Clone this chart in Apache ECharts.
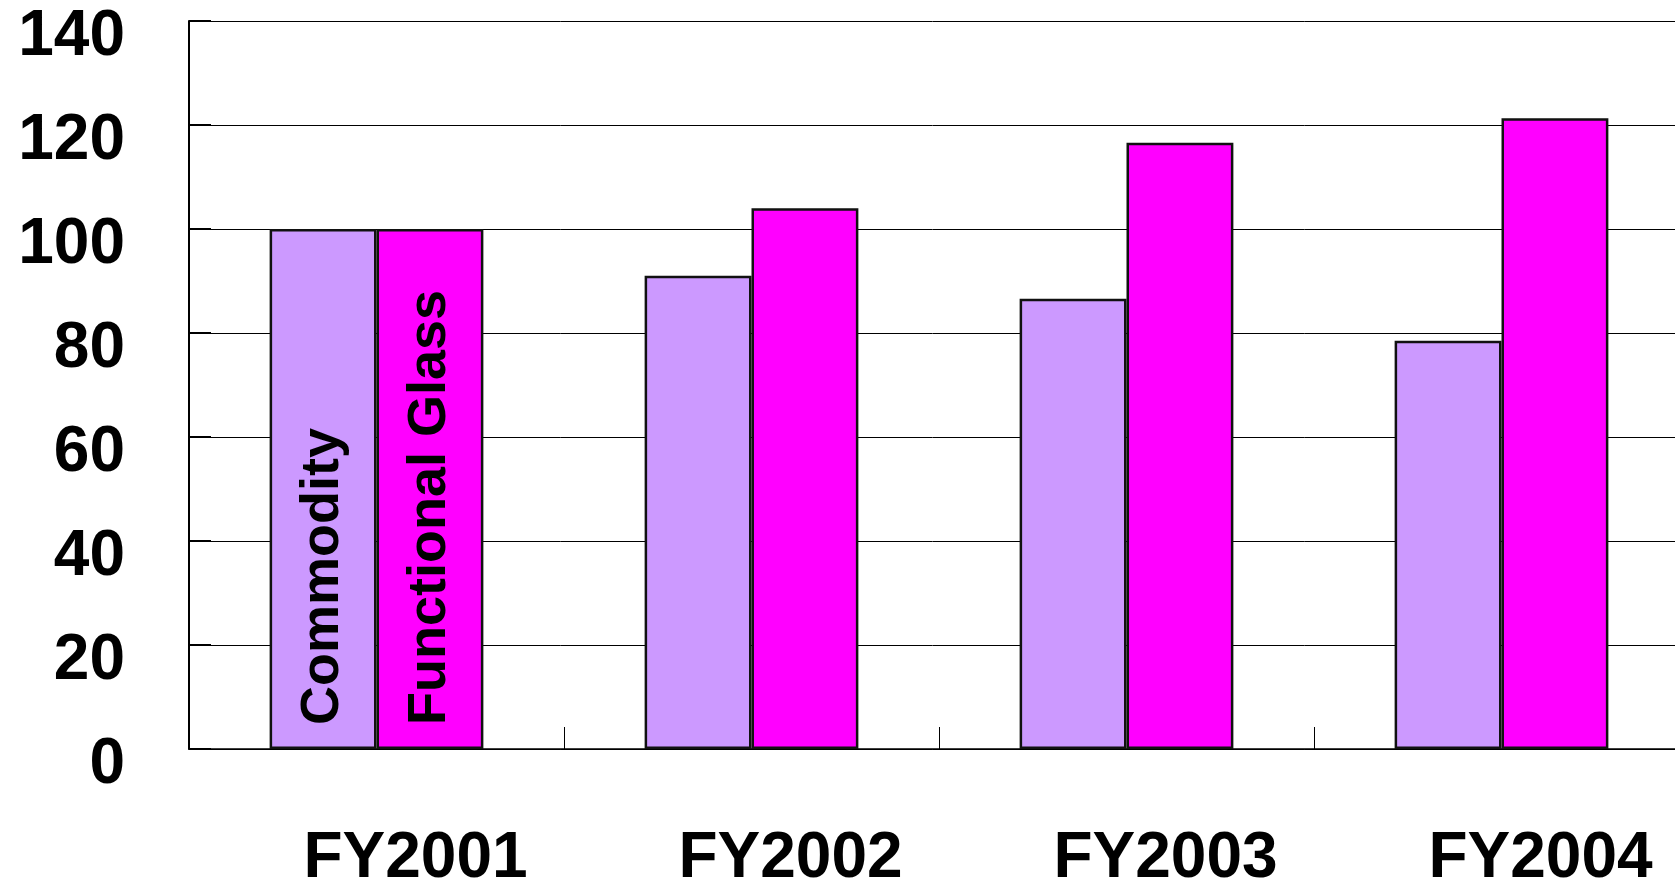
<!DOCTYPE html>
<html>
<head>
<meta charset="utf-8">
<style>
  html, body { margin: 0; padding: 0; background: #fff; }
  #chart { width: 1675px; height: 885px; }
</style>
<script src="https://cdn.jsdelivr.net/npm/echarts@6/dist/echarts.min.js"></script>
</head>
<body>
<div id="chart"></div>
<script>
// data
var years = ['FY2001', 'FY2002', 'FY2003', 'FY2004'];
var commodity = [100, 91, 86.6, 78.5];
var functionalGlass = [100, 104, 116.6, 121.3];
var seriesNames = ['Commodity', 'Functional Glass'];

var font = '"Liberation Sans", Arial, sans-serif';

// only the first bar of each series carries the name as an inside label
function withLabel(values, name) {
    return values.map(function (v, i) {
        if (i !== 0) return v;
        return {
            value: v,
            label: {
                show: true,
                formatter: name
            }
        };
    });
}

var barLabel = {
    show: false,
    position: 'insideBottom',
    rotate: 90,
    align: 'left',
    verticalAlign: 'middle',
    distance: 24,
    color: '#000',
    fontFamily: font,
    fontWeight: 'bold',
    fontSize: 54
};

var chart = echarts.init(document.getElementById('chart'));
chart.setOption({
    animation: false,
    backgroundColor: '#fff',
    grid: {
        left: 189,
        top: 21,
        right: -14,
        bottom: 136,
        outerBoundsMode: 'none',
        containLabel: false
    },
    xAxis: {
        type: 'category',
        data: years,
        axisLine: { lineStyle: { color: '#000', width: 1.5 } },
        axisTick: {
            show: true,
            inside: true,
            length: 22,
            lineStyle: { color: '#000', width: 1 }
        },
        axisLabel: {
            color: '#000',
            fontFamily: font,
            fontWeight: 'bold',
            fontSize: 64,
            margin: 78,
            padding: [0, 0, 0, 78]
        }
    },
    yAxis: {
        type: 'value',
        min: 0,
        max: 140,
        interval: 20,
        axisLine: { show: true, lineStyle: { color: '#000', width: 2 } },
        axisTick: {
            show: true,
            inside: true,
            length: 22,
            lineStyle: { color: '#000', width: 2 }
        },
        splitLine: { lineStyle: { color: '#000', width: 1 } },
        axisLabel: {
            color: '#000',
            fontFamily: font,
            fontWeight: 'bold',
            fontSize: 64,
            margin: 64,
            verticalAlign: 'top',
            lineHeight: 32
        }
    },
    series: [
        {
            name: seriesNames[0],
            type: 'bar',
            data: withLabel(commodity, seriesNames[0]),
            barGap: '0%',
            barCategoryGap: '43%',
            itemStyle: { color: '#CC99FF', borderColor: '#111', borderWidth: 2.5 },
            label: barLabel
        },
        {
            name: seriesNames[1],
            type: 'bar',
            data: withLabel(functionalGlass, seriesNames[1]),
            barGap: '0%',
            barCategoryGap: '43%',
            itemStyle: { color: '#FF00FF', borderColor: '#111', borderWidth: 2.5 },
            label: barLabel
        }
    ]
});
</script>
</body>
</html>
